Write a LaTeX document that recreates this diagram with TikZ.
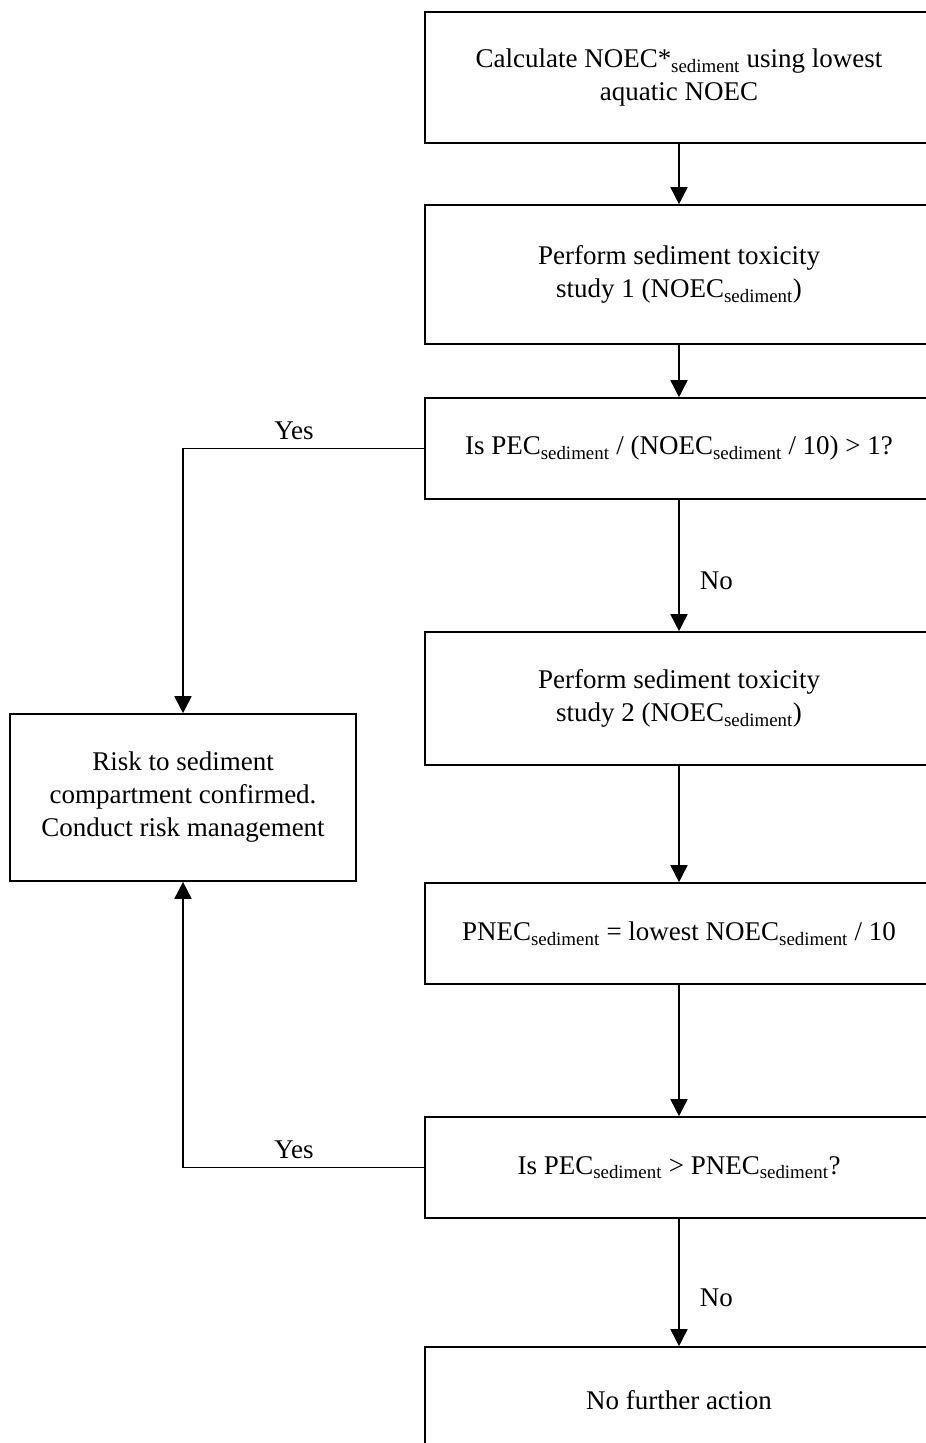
\documentclass[tikz,border=0pt]{standalone}
\usepackage{fontspec}
\setmainfont{Liberation Serif}
\usepackage{tikz}
\usetikzlibrary{arrows.meta,positioning}

\newcommand{\sedi}{\textsubscript{sediment}}
\newcommand{\mainsz}{\fontsize{27}{33}\selectfont}

\begin{document}
\begin{tikzpicture}[
  x=1pt, y=-1pt,
  every node/.style={font=\mainsz},
  blk/.style  ={draw, line width=1.6pt, minimum width=508pt,
                align=center, inner sep=0pt},
  lblk/.style ={draw, line width=1.6pt, minimum width=346pt,
                minimum height=167pt, align=center, inner sep=0pt},
  arr/.style  ={-{Triangle[length=17pt,width=17pt]}, line width=1.6pt},
  lbl/.style  ={inner sep=2pt}
]
\useasboundingbox (0,0) rectangle (926,1443);
\clip (0,0) rectangle (926,1443);

%% ---- main column ---------------------------------------------------
\node[blk, minimum height=131pt] (calc)  at (679,77.5)
     {Calculate NOEC*\sedi{} using lowest\\aquatic NOEC};
\node[blk, minimum height=139pt] (tox1)  at (679,274.5)
     {Perform sediment toxicity\\study 1 (NOEC\sedi)};
\node[blk, minimum height=101pt] (ask1)  at (679,448.5)
     {Is PEC\sedi{} / (NOEC\sedi{} / 10) > 1?};
\node[blk, minimum height=133pt] (tox2)  at (679,698.5)
     {Perform sediment toxicity\\study 2 (NOEC\sedi)};
\node[blk, minimum height=101pt] (pnec)  at (679,933.5)
     {PNEC\sedi{} = lowest NOEC\sedi{} / 10};
\node[blk, minimum height=101pt] (ask2)  at (679,1167.5)
     {Is PEC\sedi{} > PNEC\sedi?};
\node[blk, minimum height=106pt] (done)  at (679,1400)
     {No further action};

%% ---- risk box (left) -----------------------------------------------
\node[lblk] (risk) at (183,797.5)
     {Risk to sediment\\compartment confirmed.\\Conduct risk management};

\draw[arr] (calc) -- (tox1);
\draw[arr] (tox1) -- (ask1);
\draw[arr] (ask1) -- (tox2) node[lbl, pos=0.62, right=18pt] {No};
\draw[arr] (tox2) -- (pnec);
\draw[arr] (pnec) -- (ask2);
\draw[arr] (ask2) -- (done) node[lbl, pos=0.62, right=18pt] {No};

% yes branches
\draw[arr] (ask1.west) -| (risk.north)
     node[lbl, pos=0.27, above=6pt] {Yes};
\draw[arr] (ask2.west) -| (risk.south)
     node[lbl, pos=0.27, above=6pt] {Yes};

\end{tikzpicture}
\end{document}
